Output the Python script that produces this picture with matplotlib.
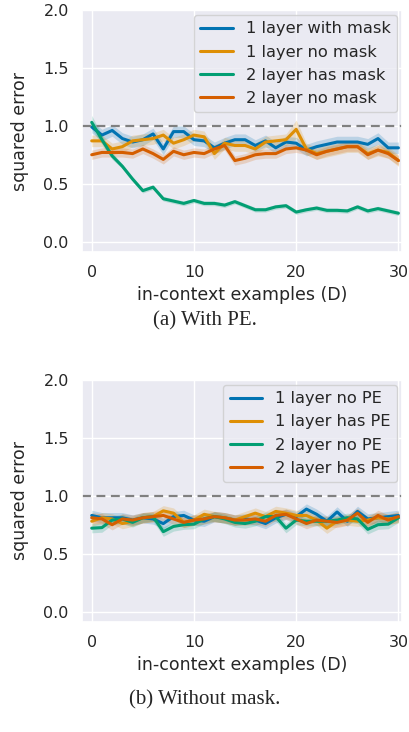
import numpy as np
import matplotlib
matplotlib.use("Agg")
import matplotlib.pyplot as plt
import seaborn as sns

# x axis: number of in-context examples
examples = list(range(31))

# (a) With PE -- mean squared error per model
mask_1layer = [0.99, 0.92, 0.96, 0.89, 0.86, 0.88, 0.93, 0.80, 0.95, 0.95, 0.88,
               0.87, 0.81, 0.85, 0.88, 0.88, 0.83, 0.87, 0.81, 0.86, 0.85,
               0.79, 0.82, 0.84, 0.86, 0.86, 0.86, 0.84, 0.89, 0.81, 0.81]
nomask_1layer = [0.87, 0.87, 0.80, 0.82, 0.87, 0.88, 0.89, 0.92, 0.85, 0.88, 0.92,
                 0.905, 0.76, 0.85, 0.83, 0.83, 0.80, 0.86, 0.87, 0.88, 0.97,
                 0.80, 0.76, 0.78, 0.80, 0.82, 0.82, 0.76, 0.79, 0.77, 0.70]
mask_2layer = [1.03, 0.88, 0.74, 0.65, 0.54, 0.44, 0.47, 0.37, 0.35, 0.33, 0.355,
               0.33, 0.33, 0.315, 0.345, 0.31, 0.275, 0.275, 0.30, 0.31, 0.255,
               0.275, 0.29, 0.27, 0.27, 0.265, 0.30, 0.265, 0.285, 0.265, 0.245]
nomask_2layer = [0.75, 0.77, 0.77, 0.77, 0.76, 0.80, 0.76, 0.71, 0.78, 0.75, 0.77,
                 0.76, 0.80, 0.83, 0.70, 0.72, 0.75, 0.76, 0.76, 0.80, 0.81,
                 0.79, 0.75, 0.78, 0.80, 0.82, 0.82, 0.75, 0.79, 0.76, 0.70]

# standard error of each curve
mask_1layer_se = [0.05] * 31
nomask_1layer_se = [0.05] * 20 + [0.08] + [0.05] * 10
mask_2layer_se = [0.06, 0.04, 0.03] + [0.02] * 28
nomask_2layer_se = [0.04] * 31

# (b) Without mask
nope_1layer = [0.83, 0.81, 0.81, 0.81, 0.79, 0.81, 0.80, 0.76, 0.82, 0.83, 0.79,
               0.78, 0.82, 0.81, 0.79, 0.80, 0.79, 0.76, 0.81, 0.84, 0.82,
               0.885, 0.84, 0.78, 0.86, 0.78, 0.865, 0.80, 0.81, 0.82, 0.83]
pe_1layer = [0.78, 0.81, 0.80, 0.76, 0.78, 0.81, 0.82, 0.87, 0.85, 0.77, 0.79,
             0.84, 0.82, 0.81, 0.79, 0.82, 0.85, 0.82, 0.865, 0.85, 0.83,
             0.83, 0.79, 0.72, 0.78, 0.79, 0.78, 0.79, 0.81, 0.80, 0.81]
nope_2layer = [0.72, 0.725, 0.79, 0.80, 0.77, 0.81, 0.82, 0.69, 0.735, 0.75, 0.755,
               0.80, 0.82, 0.80, 0.77, 0.76, 0.78, 0.82, 0.82, 0.72, 0.79,
               0.78, 0.78, 0.78, 0.79, 0.81, 0.80, 0.71, 0.75, 0.755, 0.81]
pe_2layer = [0.81, 0.80, 0.75, 0.80, 0.79, 0.81, 0.82, 0.83, 0.80, 0.77, 0.79,
             0.80, 0.82, 0.81, 0.79, 0.79, 0.80, 0.78, 0.83, 0.84, 0.80,
             0.76, 0.79, 0.78, 0.77, 0.79, 0.85, 0.77, 0.83, 0.79, 0.82]
nope_1layer_se = [0.045] * 31
pe_1layer_se = [0.045] * 31
nope_2layer_se = [0.04] * 31
pe_2layer_se = [0.045] * 31

panel_a = [("1 layer with mask", mask_1layer, mask_1layer_se),
           ("1 layer no mask", nomask_1layer, nomask_1layer_se),
           ("2 layer has mask", mask_2layer, mask_2layer_se),
           ("2 layer no mask", nomask_2layer, nomask_2layer_se)]
panel_b = [("1 layer no PE", nope_1layer, nope_1layer_se),
           ("1 layer has PE", pe_1layer, pe_1layer_se),
           ("2 layer no PE", nope_2layer, nope_2layer_se),
           ("2 layer has PE", pe_2layer, pe_2layer_se)]

sns.set_theme(style="darkgrid")
colors = sns.color_palette("colorblind", 4)
plt.rcParams["font.family"] = ["DejaVu Sans"]

fig = plt.figure(figsize=(4.09, 7.32), dpi=100)
ax_a = fig.add_axes([0.2005, 0.6557, 0.7824, 0.3306])
ax_b = fig.add_axes([0.2005, 0.1503, 0.7824, 0.3306])

x = np.array(examples)
for ax, series in [(ax_a, panel_a), (ax_b, panel_b)]:
    for (label, mean, se), c in zip(series, colors):
        mean = np.array(mean)
        se = np.array(se)
        ax.fill_between(x, mean - se, mean + se, color=c, alpha=0.2, lw=0)
        ax.plot(x, mean, color=c, lw=2.2, label=label)
    ax.axhline(1.0, color="gray", ls="--", lw=1.6, dashes=(4, 2.5))
    ax.set_xlim(-0.95, 30.35)
    ax.set_ylim(-0.09, 2.0)
    ax.set_xticks([0, 10, 20, 30])
    ax.set_yticks([0.0, 0.5, 1.0, 1.5, 2.0])
    ax.tick_params(labelsize=11.5, colors="#262626")
    ax.set_xlabel("in-context examples (D)", fontsize=12.5)
    ax.set_ylabel("squared error", fontsize=12.5)
    ax.yaxis.set_label_coords(-0.165, 0.5)
    ax.legend(loc="upper right", fontsize=11.7, framealpha=0.8,
              borderaxespad=0.3, handlelength=2.0)

fig.text(0.5, 0.5615, "(a) With PE.", ha="center", va="center",
         family="Liberation Serif", fontsize=15)
fig.text(0.5, 0.0437, "(b) Without mask.", ha="center", va="center",
         family="Liberation Serif", fontsize=15)

fig.savefig("out.png", dpi=100)
